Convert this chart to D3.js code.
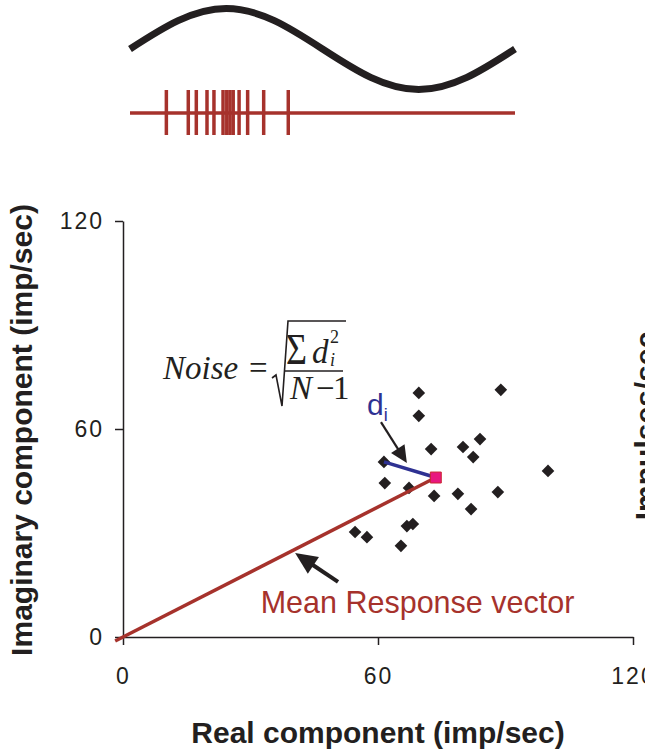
<!DOCTYPE html>
<html>
<head>
<meta charset="utf-8">
<script src="https://cdn.jsdelivr.net/npm/d3@7"></script>
<style>
  body { margin: 0; background: #fff; }
  svg { display: block; }
</style>
</head>
<body>
<svg id="chart"></svg>
<script>
// single-trial responses (imp/sec)
const realVals = [69.6, 88.9, 69.6, 72.5, 80.0, 84.0, 82.4, 100.0, 61.4, 61.6, 67.3, 73.2, 78.8, 88.2, 81.9, 66.8, 68.2, 54.6, 57.4, 65.4];
const imagVals = [70.4, 71.3, 63.8, 54.2, 54.8, 57.1, 51.9, 47.9, 50.5, 44.4, 43.0, 40.7, 41.3, 41.8, 36.9, 32.0, 32.6, 30.3, 28.8, 26.3];
const meanVec = [73.6, 46.0];
const diIndex = 8;          // trial used to show d_i
const axisTicks = [0, 60, 120];

// stimulus cycle on top (phase in deg, relative amplitude) and spike phases
const stimPhase = [0, 45, 90, 135, 180, 225, 270, 315, 360];
const stimValue = [0, 0.7, 1, 0.7, 0, -0.7, -1, -0.7, 0];
const spikePhase = [34, 54.5, 62, 72, 78.5, 87, 90.5, 93.5, 96.5, 102, 110, 125, 148];

// annotation arrows, data units: [tail, tip]
const diArrow = [[60.7, 62.0], [66.8, 50.2]];
const meanArrow = [[50.6, 15.9], [40.5, 24.2]];

const W = 645, H = 751;
const ink = "#231f20", red = "#a6322c", blue = "#2e3192";
const sans = "'Liberation Sans', Arial, sans-serif";
const serif = "'Liberation Serif', 'Times New Roman', serif";

const svg = d3.select("#chart").attr("width", W).attr("height", H);

// ---- stimulus + spike raster ----
const xStim = d3.scaleLinear().domain([0, 360]).range([130, 515]);
const yStim = d3.scaleLinear().domain([-1, 1]).range([89.5, 8.5]);

svg.append("path")
  .datum(stimPhase.map((p, i) => [p, stimValue[i]]))
  .attr("fill", "none")
  .attr("stroke", ink)
  .attr("stroke-width", 7)
  .attr("d", d3.line().x(d => xStim(d[0])).y(d => yStim(d[1])).curve(d3.curveNatural));

svg.append("line")
  .attr("x1", xStim(0)).attr("x2", xStim(360))
  .attr("y1", 113).attr("y2", 113)
  .attr("stroke", red).attr("stroke-width", 3.5);

svg.selectAll(".spike")
  .data(spikePhase)
  .join("line")
    .attr("class", "spike")
    .attr("x1", d => xStim(d)).attr("x2", d => xStim(d))
    .attr("y1", 90).attr("y2", 135)
    .attr("stroke", red).attr("stroke-width", 3.5);

// ---- polar plot ----
const x = d3.scaleLinear().domain([0, 120]).range([123, 633]);
const y = d3.scaleLinear().domain([0, 120]).range([637, 221]);

const yAxisG = svg.append("g")
  .attr("transform", `translate(${x(0)},0)`)
  .call(d3.axisLeft(y).tickValues(axisTicks).tickSize(8).tickSizeOuter(0).tickPadding(11));

const xAxisG = svg.append("g")
  .attr("transform", `translate(0,${y(0)})`)
  .call(d3.axisBottom(x).tickValues(axisTicks).tickSize(8).tickSizeOuter(0).tickPadding(23));

[yAxisG, xAxisG].forEach(g => {
  g.select(".domain").attr("stroke", ink).attr("stroke-width", 1.5);
  g.selectAll(".tick line").attr("stroke", ink).attr("stroke-width", 1.5);
  g.selectAll(".tick text")
    .attr("fill", ink)
    .style("font-family", sans)
    .style("font-size", "23px")
    .style("letter-spacing", "2px");
});

// trials
svg.selectAll(".trial")
  .data(realVals.map((r, i) => [r, imagVals[i]]))
  .join("path")
    .attr("class", "trial")
    .attr("d", d3.symbol(d3.symbolSquare, 80))
    .attr("transform", d => `translate(${x(d[0])},${y(d[1])}) rotate(45)`)
    .attr("fill", ink);

// mean response vector
const ext = -0.025;
svg.append("line")
  .attr("x1", x(meanVec[0] * ext)).attr("y1", y(meanVec[1] * ext))
  .attr("x2", x(meanVec[0])).attr("y2", y(meanVec[1]))
  .attr("stroke", red).attr("stroke-width", 3.5);

// d_i
svg.append("line")
  .attr("x1", x(realVals[diIndex])).attr("y1", y(imagVals[diIndex]))
  .attr("x2", x(meanVec[0])).attr("y2", y(meanVec[1]))
  .attr("stroke", blue).attr("stroke-width", 3.5);

svg.append("path")
  .attr("d", d3.symbol(d3.symbolSquare, 120))
  .attr("transform", `translate(${x(meanVec[0])},${y(meanVec[1])})`)
  .attr("fill", "#e8177f")
  .attr("stroke", "#c9262f")
  .attr("stroke-width", 1);

function arrow(pts, headLen, headW, sw) {
  const x0 = x(pts[0][0]), y0 = y(pts[0][1]), x1 = x(pts[1][0]), y1 = y(pts[1][1]);
  const L = Math.hypot(x1 - x0, y1 - y0), ux = (x1 - x0) / L, uy = (y1 - y0) / L;
  const bx = x1 - ux * headLen, by = y1 - uy * headLen;
  svg.append("line")
    .attr("x1", x0).attr("y1", y0).attr("x2", bx + ux * 2).attr("y2", by + uy * 2)
    .attr("stroke", ink).attr("stroke-width", sw);
  svg.append("path")
    .attr("d", `M${x1},${y1}L${bx - uy * headW},${by + ux * headW}L${bx + uy * headW},${by - ux * headW}Z`)
    .attr("fill", ink);
}
arrow(diArrow, 17, 8, 2.2);
arrow(meanArrow, 22, 10, 4);

svg.append("text")
  .attr("x", x(32.4)).attr("y", y(6.9))
  .attr("fill", red)
  .style("font-family", sans).style("font-size", "30.5px")
  .text("Mean Response vector");

const di = svg.append("text")
  .attr("x", x(57.4)).attr("y", y(64))
  .attr("fill", blue)
  .style("font-family", sans).style("font-size", "30px");
di.append("tspan").text("d");
di.append("tspan").attr("dy", 6).style("font-size", "18px").text("i");

// ---- noise formula ----
const f = svg.append("g").style("font-family", serif).attr("fill", ink);
f.append("text").attr("x", 163).attr("y", 379).style("font-size", "33px").style("font-style", "italic").text("Noise");
f.append("text").attr("x", 249).attr("y", 379).style("font-size", "33px").text("=");
f.append("path")
  .attr("d", "M272,378L276,375L282,406L288,321L346,321")
  .attr("fill", "none").attr("stroke", ink).attr("stroke-width", 1.6);
f.append("path").attr("d", "M284,371H343").attr("stroke", ink).attr("stroke-width", 1.4);
f.append("text").attr("transform", "translate(286,364) scale(0.82,1)").style("font-size", "44px").text("Σ");
f.append("text").attr("x", 312).attr("y", 363).style("font-size", "33px").style("font-style", "italic").text("d");
f.append("text").attr("x", 330).attr("y", 343).style("font-size", "18px").text("2");
f.append("text").attr("x", 330).attr("y", 366).style("font-size", "18px").style("font-style", "italic").text("i");
f.append("text").attr("x", 290).attr("y", 399).style("font-size", "33px").style("font-style", "italic").text("N");
f.append("text").attr("x", 316).attr("y", 399).style("font-size", "33px").text("−");
f.append("text").attr("x", 333).attr("y", 399).style("font-size", "33px").text("1");

// ---- axis titles ----
svg.append("text")
  .attr("transform", "translate(32,430) rotate(-90)")
  .attr("text-anchor", "middle")
  .attr("fill", ink)
  .style("font-family", sans).style("font-size", "30px").style("font-weight", "bold")
  .text("Imaginary component (imp/sec)");

svg.append("text")
  .attr("x", 378).attr("y", 743)
  .attr("text-anchor", "middle")
  .attr("fill", ink)
  .style("font-family", sans).style("font-size", "30px").style("font-weight", "bold")
  .text("Real component (imp/sec)");

svg.append("text")
  .attr("transform", "translate(656,426) rotate(-90)")
  .attr("text-anchor", "middle")
  .attr("fill", ink)
  .style("font-family", sans).style("font-size", "30px").style("font-weight", "bold")
  .text("Impulses/sec");
</script>
</body>
</html>
